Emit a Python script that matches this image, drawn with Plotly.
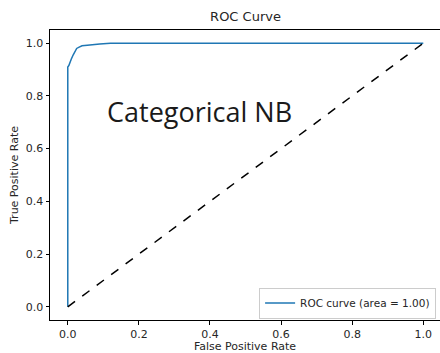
import plotly.graph_objects as go

fpr = [0.0, 0.0, 0.003, 0.006, 0.01, 0.015, 0.02, 0.025, 0.032, 0.04, 0.055, 0.07, 0.09, 0.12, 1.0]
tpr = [0.0, 0.91, 0.915, 0.93, 0.94, 0.955, 0.97, 0.98, 0.985, 0.99, 0.992, 0.995, 0.997, 1.0, 1.0]
diag_x = [0.0, 1.0]
diag_y = [0.0, 1.0]
roc_auc = 1.00
xticks = [0.0, 0.2, 0.4, 0.6, 0.8, 1.0]
yticks = [0.0, 0.2, 0.4, 0.6, 0.8, 1.0]

font = "DejaVu Sans"
fig = go.Figure()
fig.add_trace(go.Scatter(x=fpr, y=tpr, mode="lines",
                         line=dict(color="#1f77b4", width=1.5),
                         name=f"ROC curve (area = {roc_auc:.2f})"))
fig.add_trace(go.Scatter(x=diag_x, y=diag_y, mode="lines",
                         line=dict(color="black", width=1.5, dash="dash"),
                         showlegend=False))

fig.add_annotation(x=0.371, y=0.74, xref="x", yref="y", text="Categorical NB",
                   showarrow=False, font=dict(family="Open Sans", size=27, color="#1a1a1a"))

axis_common = dict(showgrid=False, zeroline=False, showline=True, linecolor="black",
                   linewidth=1, mirror=True, ticks="outside", ticklen=3.5, automargin=False,
                   tickcolor="black", tickfont=dict(family=font, size=11, color="#262626"))
fig.update_layout(
    width=440, height=353,
    margin=dict(l=50, r=0, t=30, b=33, autoexpand=False),
    paper_bgcolor="white", plot_bgcolor="white",
    title=dict(text="ROC Curve", x=0.558, xanchor="center", y=0.952, yanchor="middle",
               font=dict(family=font, size=13, color="#262626")),
    xaxis=dict(range=[-0.05, 1.047], tickvals=xticks, ticktext=[f"{v:.1f}" for v in xticks],
               title=dict(text="False Positive Rate", standoff=2,
                          font=dict(family=font, size=11, color="#262626")), **axis_common),
    yaxis=dict(range=[-0.05, 1.05], tickvals=yticks, ticktext=[f"{v:.1f}" for v in yticks],
               title=dict(text="True Positive Rate", standoff=4,
                          font=dict(family=font, size=11, color="#262626")), **axis_common),
    legend=dict(x=0.99, y=0.005, xanchor="right", yanchor="bottom",
                bgcolor="rgba(255,255,255,0.8)", bordercolor="#cccccc", borderwidth=1,
                font=dict(family=font, size=10.5, color="#262626")),
)
fig.write_html("out.html", config={"displayModeBar": False},
               post_script="document.body.style.margin='0';document.body.style.overflow='hidden';")
